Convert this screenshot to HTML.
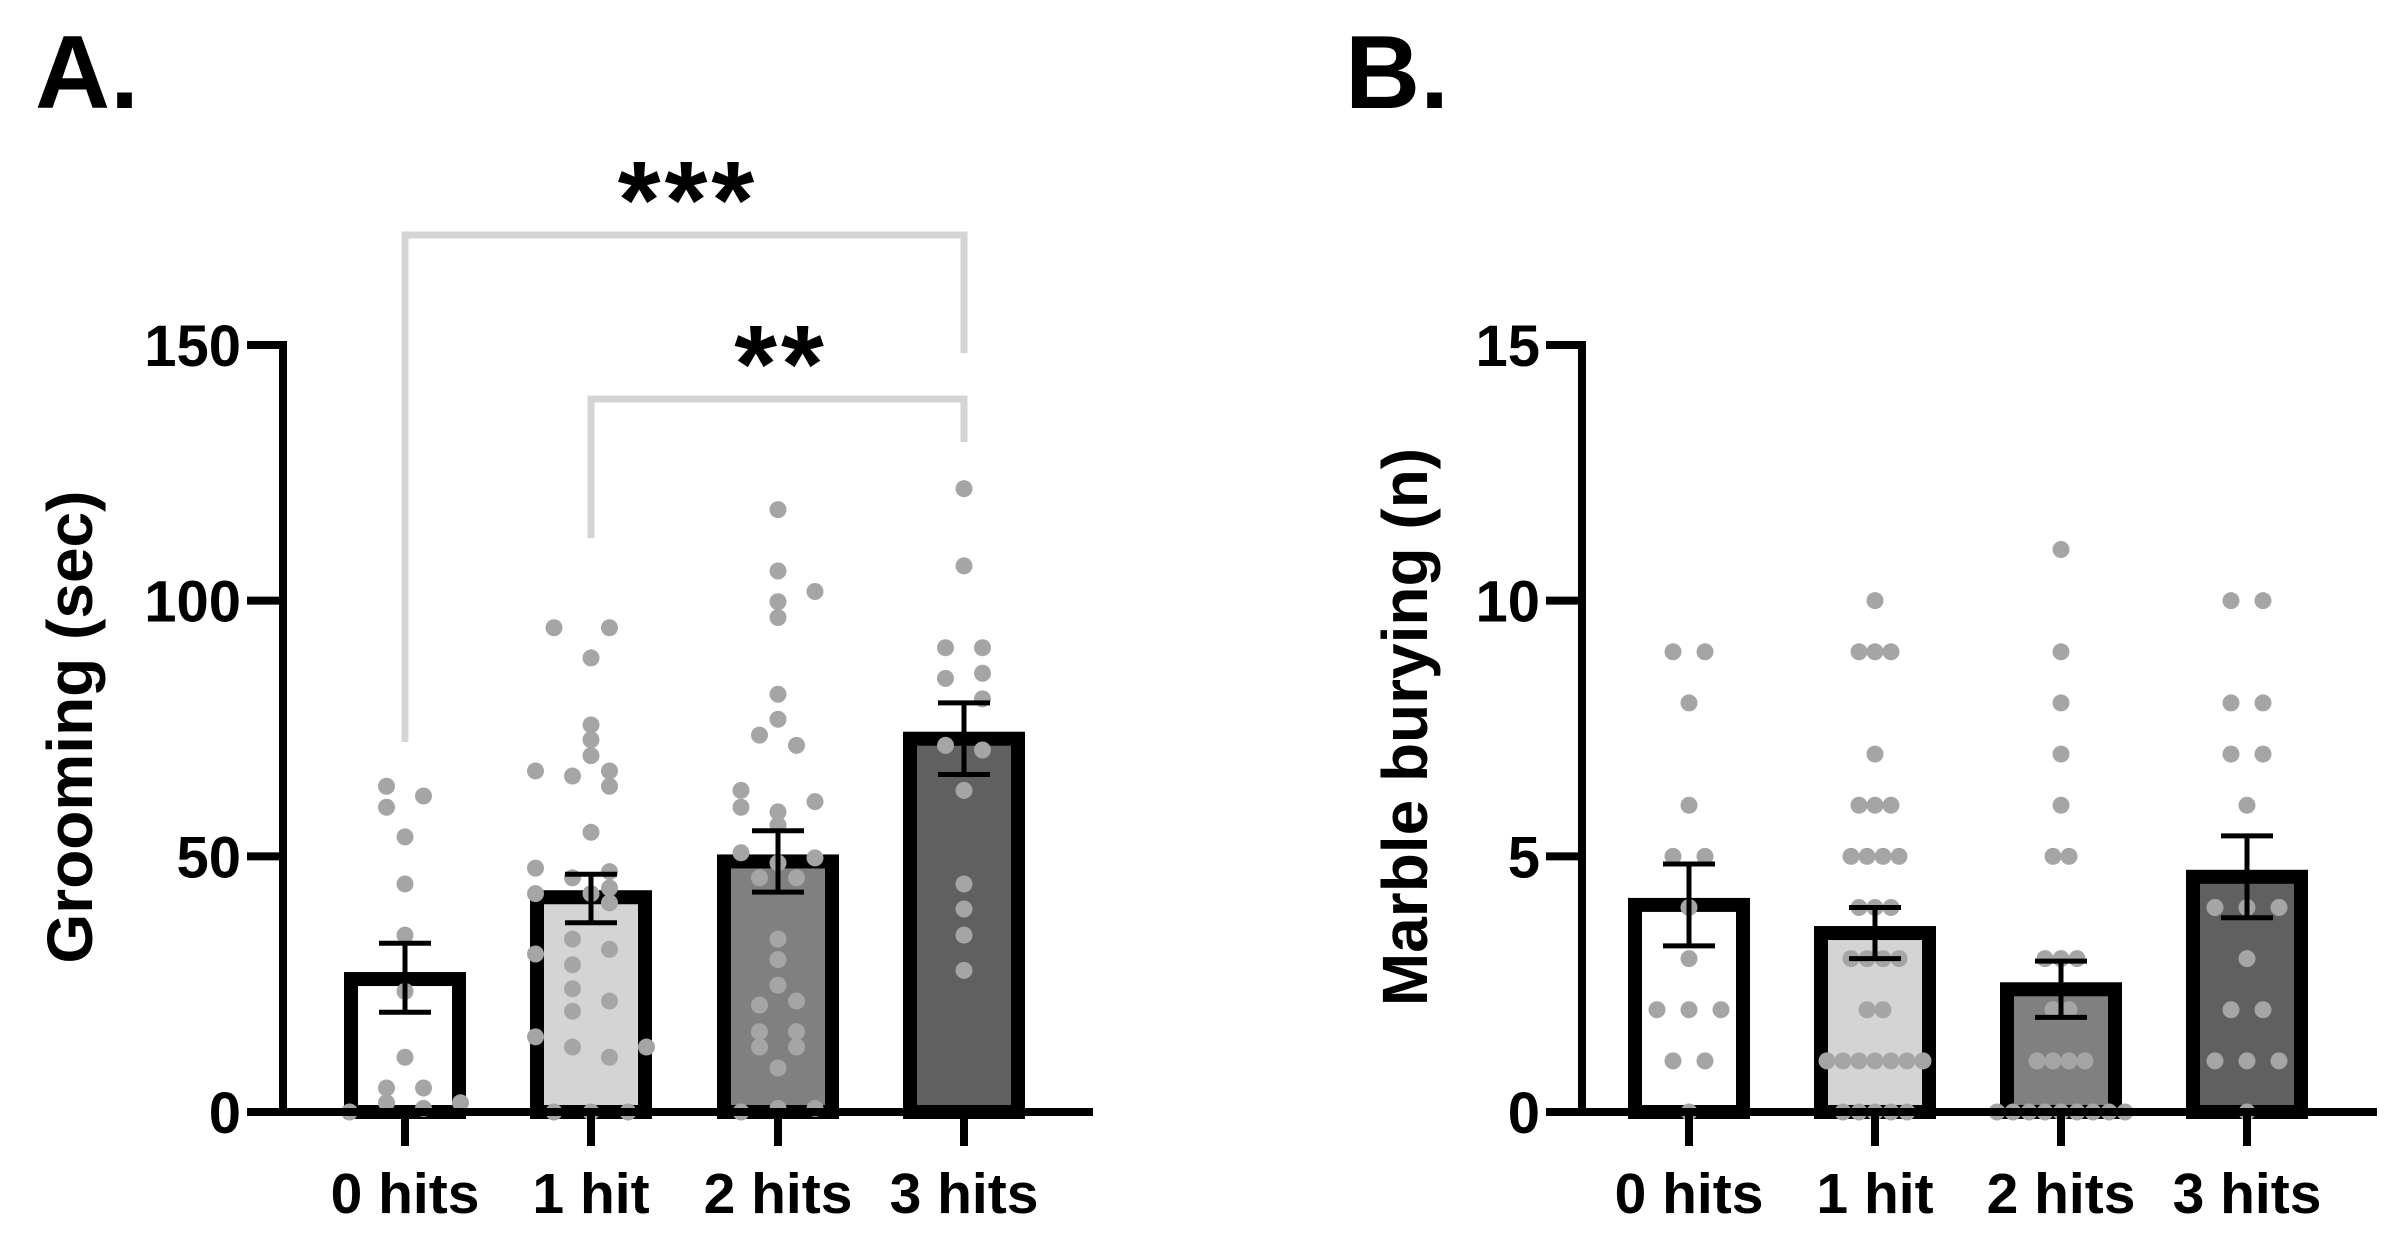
<!DOCTYPE html>
<html><head><meta charset="utf-8"><style>
html,body{margin:0;padding:0;background:#fff;}
svg{display:block;font-family:"Liberation Sans",sans-serif;font-weight:bold;}
</style></head><body>
<svg id="chart" width="2405" height="1235" viewBox="0 0 2405 1235" xmlns="http://www.w3.org/2000/svg">
<text x="35" y="108" font-size="104">A.</text>
<text x="1345" y="108" font-size="104">B.</text>
<g id="pa"></g>
<g id="pb"></g>
</svg>
<script>
const categories = ["0 hits","1 hit","2 hits","3 hits"];
const barColors = ["#ffffff","#d4d4d4","#808080","#606060"];
const groomMean = [26,42,49,73];
const groomSemLo = [19.5,37,43,66];
const groomSemHi = [33,46.5,55,80];
const groomTicks = [0,50,100,150];
const groomPts0 = [[63.7,-1],[61.8,1],[59.6,-1],[53.8,0],[44.6,0],[34.6,0],[23.6,0],[10.7,0],[4.7,-1],[4.7,1],[1.8,-1],[0.7,1],[1.8,3],[0,-3]];
const groomPts1 = [[94.7,-2],[94.7,1],[88.8,0],[75.7,0],[72.8,0],[69.7,0],[66.7,-3],[65.7,-1],[66.7,1],[63.7,1],[54.7,0],[47.7,-3],[47,1],[45.8,-1],[43.8,1],[42.7,-3],[42.7,0],[40.9,1],[33.8,-1],[30.9,-3],[31.8,1],[28.8,-1],[24.1,-1],[21.7,1],[19.7,-1],[14.7,-3],[12.7,-1],[12.7,3],[10.7,1],[0,-2],[0,0],[0,2]];
const groomPts2 = [[117.8,0],[105.8,0],[101.8,2],[99.8,0],[96.7,0],[81.7,0],[76.8,0],[73.7,-1],[71.7,1],[62.9,-2],[59.6,-2],[58.7,0],[60.7,2],[56.1,0],[50.7,-2],[49.7,2],[48.7,0],[45.8,-1],[45.8,1],[33.8,0],[29.8,0],[24.8,0],[20.9,-1],[21.7,1],[15.7,-1],[15.7,1],[12.7,-1],[12.7,1],[8.6,0],[0,-2],[0.7,0],[0.7,2]];
const groomPts3 = [[121.9,0],[106.8,0],[90.8,-1],[90.8,1],[85.8,1],[84.8,-1],[80.8,1],[71.7,-1],[70.8,1],[62.9,0],[44.6,0],[39.7,0],[34.6,0],[27.7,0]];

const marbleMean = [4.05,3.5,2.4,4.6];
const marbleSemLo = [3.25,3.0,1.85,3.8];
const marbleSemHi = [4.85,4.0,2.95,5.4];
const marbleTicks = [0,5,10,15];
const marblePts0 = [[9,-1],[9,1],[8,0],[6,0],[5,-1],[5,1],[4,0],[3,0],[2,-2],[2,0],[2,2],[1,-1],[1,1],[0,0]];
const marblePts1 = [[10,0],[9,-1],[9,0],[9,1],[7,0],[6,-1],[6,0],[6,1],[5,-1.5],[5,-0.5],[5,0.5],[5,1.5],[4,-1],[4,0],[4,1],[3,-1.5],[3,-0.5],[3,0.5],[3,1.5],[2,-0.5],[2,0.5],[1,-3],[1,-2],[1,-1],[1,0],[1,1],[1,2],[1,3],[0,-2],[0,-1],[0,0],[0,1],[0,2]];
const marblePts2 = [[11,0],[9,0],[8,0],[7,0],[6,0],[5,-0.5],[5,0.5],[3,-1],[3,0],[3,1],[2,-0.5],[2,0.5],[1,-1.5],[1,-0.5],[1,0.5],[1,1.5],[0,-4],[0,-3],[0,-2],[0,-1],[0,0],[0,1],[0,2],[0,3],[0,4]];
const marblePts3 = [[10,-1],[10,1],[8,-1],[8,1],[7,-1],[7,1],[6,0],[4,-2],[4,0],[4,2],[3,0],[2,-1],[2,1],[1,-2],[1,0],[1,2],[0,0]];

const NS="http://www.w3.org/2000/svg";
function mk(parent,tag,attrs){const e=document.createElementNS(NS,tag);for(const k in attrs)e.setAttribute(k,attrs[k]);parent.appendChild(e);return e;}

function drawPanel(g, cfg){
  const y = v => cfg.y0 - v/cfg.max*(cfg.y0-cfg.yTop);
  const xc = i => cfg.centers[i];
  cfg.mean.forEach((m,i)=>{
    const r=mk(g,'rect',{x:xc(i)-54,y:y(m),width:108,height:cfg.y0-y(m),fill:barColors[i],stroke:'#000','stroke-width':14});
    
    
  });
  cfg.pts.forEach((arr,i)=>{
    arr.forEach(p=>{
      const c=mk(g,'circle',{cx:xc(i)+p[1]*cfg.sp,cy:y(p[0]),r:8.5,fill:'#a5a5a8'});
      
      
    });
  });
  cfg.mean.forEach((m,i)=>{
    const eg=mk(g,'g',{stroke:'#000','stroke-width':5});
    
    
    mk(eg,'line',{x1:xc(i),x2:xc(i),y1:y(cfg.lo[i]),y2:y(cfg.hi[i])});
    mk(eg,'line',{x1:xc(i)-26,x2:xc(i)+26,y1:y(cfg.lo[i]),y2:y(cfg.lo[i])});
    mk(eg,'line',{x1:xc(i)-26,x2:xc(i)+26,y1:y(cfg.hi[i]),y2:y(cfg.hi[i])});
  });
  const ax=mk(g,'g',{stroke:'#000','stroke-width':8,fill:'none'});
  
  
  mk(ax,'line',{x1:cfg.ax,x2:cfg.ax,y1:cfg.yTop-4,y2:cfg.y0+4});
  mk(ax,'line',{x1:cfg.ax-36,x2:cfg.xEnd,y1:cfg.y0,y2:cfg.y0});
  cfg.ticks.forEach(t=>{
    mk(ax,'line',{x1:cfg.ax-36,x2:cfg.ax,y1:y(t),y2:y(t)});
    const tx=mk(g,'text',{x:cfg.ax-42,y:y(t)+21,'font-size':58,'text-anchor':'end'});
    tx.textContent=t;
    
    
  });
  categories.forEach((c,i)=>{
    mk(ax,'line',{x1:xc(i),x2:xc(i),y1:cfg.y0,y2:cfg.y0+34});
    const tx=mk(g,'text',{x:xc(i),y:1213,'font-size':57,'text-anchor':'middle'});
    tx.textContent=c;
    
    
  });
  const tt=mk(g,'text',{x:0,y:0,'font-size':64,'text-anchor':'middle',transform:`translate(${cfg.titleX},727) rotate(-90)`});
  tt.textContent=cfg.title;
  
  
}

drawPanel(document.getElementById('pa'),{y0:1112,yTop:345,max:150,ax:283,xEnd:1093,centers:[405,591,778,964],sp:18.5,
  mean:groomMean,lo:groomSemLo,hi:groomSemHi,ticks:groomTicks,pts:[groomPts0,groomPts1,groomPts2,groomPts3],title:"Grooming (sec)",titleX:92});
drawPanel(document.getElementById('pb'),{y0:1112,yTop:345,max:15,ax:1582,xEnd:2377,centers:[1689,1875,2061,2247],sp:16,
  mean:marbleMean,lo:marbleSemLo,hi:marbleSemHi,ticks:marbleTicks,pts:[marblePts0,marblePts1,marblePts2,marblePts3],title:"Marble burying (n)",titleX:1427});

const pa=document.getElementById('pa');
const br=mk(pa,'g',{stroke:'#d4d4d4','stroke-width':7,fill:'none'});


mk(br,'polyline',{points:'405,742 405,235 964,235 964,353'});
mk(br,'polyline',{points:'591,538 591,399 964,399 964,442'});
const s1=mk(pa,'text',{x:688,y:238,'font-size':110,'text-anchor':'middle','letter-spacing':'4'});
s1.textContent='***';


const s2=mk(pa,'text',{x:781,y:402,'font-size':110,'text-anchor':'middle','letter-spacing':'4'});
s2.textContent='**';


</script>
</body></html>
